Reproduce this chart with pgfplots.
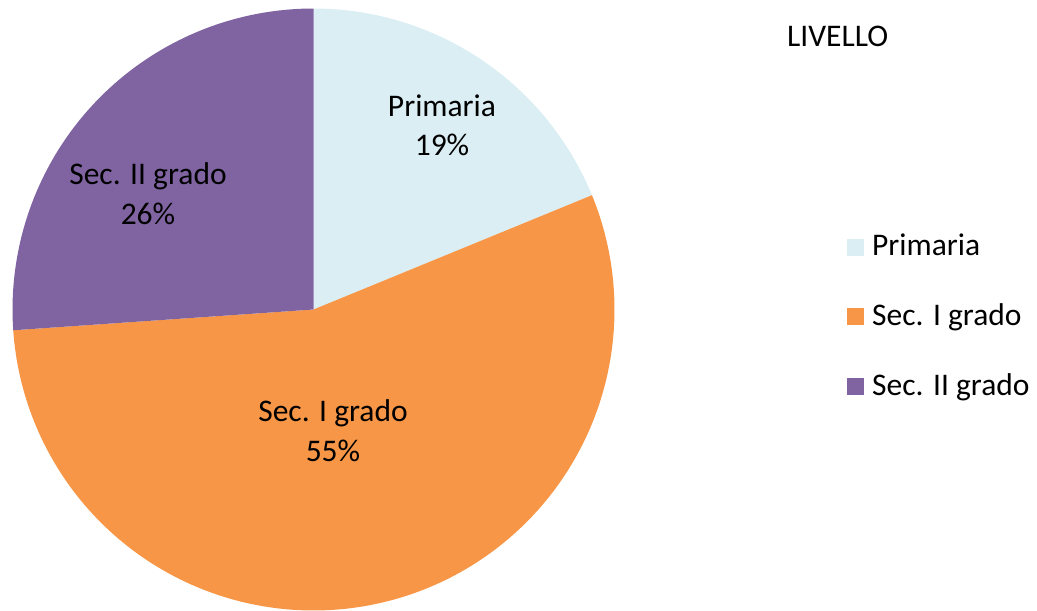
\documentclass[border=0pt]{standalone}
\usepackage{fontspec}
\setmainfont{Carlito}
\usepackage{pgfplots}
\pgfplotsset{compat=1.18}
\definecolor{cPrim}{HTML}{DAEEF3}
\definecolor{cSecI}{HTML}{F79646}
\definecolor{cSecII}{HTML}{8064A2}
% shares (percent)
\def\vPrim{18.8}
\def\vSecI{55.1}
\def\vSecII{26.1}
\begin{document}
\fontsize{31.5bp}{39bp}\selectfont
\begin{tikzpicture}
\def\cx{313.5}\def\cy{309.5}\def\R{301}
\pgfmathsetmacro{\aA}{90}
\pgfmathsetmacro{\aB}{\aA-3.6*\vPrim}
\pgfmathsetmacro{\aC}{\aB-3.6*\vSecI}
\pgfmathsetmacro{\aD}{\aC-3.6*\vSecII}
\begin{axis}[hide axis, scale only axis, width=1037bp, height=610bp,
  xmin=0, xmax=1037, ymin=0, ymax=610, y dir=reverse, clip=false,
  legend style={at={(axis cs:847,234)}, anchor=north west, draw=none, fill=none,
    inner sep=0pt, row sep=43bp, font=\fontsize{31.5bp}{39bp}\selectfont,
    nodes={inner sep=0pt}},
  legend cell align=left,
  legend image code/.code={\fill[#1] (0bp,-8.5bp) rectangle (17bp,8.5bp);},
  legend columns=1]
\addplot[fill=cPrim, draw=none, domain=\aB:\aA, samples=90, variable=\t]
  ({\cx+\R*cos(\t)},{\cy-\R*sin(\t)}) -- (axis cs:\cx,\cy) -- cycle;
\addlegendentry{\hspace{8bp}Primaria}
\addplot[fill=cSecI, draw=none, domain=\aC:\aB, samples=180, variable=\t]
  ({\cx+\R*cos(\t)},{\cy-\R*sin(\t)}) -- (axis cs:\cx,\cy) -- cycle;
\addlegendentry{\hspace{8bp}Sec. I grado}
\addplot[fill=cSecII, draw=none, domain=\aD:\aC, samples=90, variable=\t]
  ({\cx+\R*cos(\t)},{\cy-\R*sin(\t)}) -- (axis cs:\cx,\cy) -- cycle;
\addlegendentry{\hspace{8bp}Sec. II grado}
\node[anchor=base, inner sep=0pt] at (axis cs:442,117) {Primaria};
\node[anchor=base, inner sep=0pt] at (axis cs:442,156) {19\%};
\node[anchor=base, inner sep=0pt] at (axis cs:333,421) {Sec. I grado};
\node[anchor=base, inner sep=0pt] at (axis cs:333,461) {55\%};
\node[anchor=base, inner sep=0pt] at (axis cs:148,185) {Sec. II grado};
\node[anchor=base, inner sep=0pt] at (axis cs:148,225) {26\%};
\node[anchor=base west, inner sep=0pt] at (axis cs:787,47) {LIVELLO};
\end{axis}
\path (current axis.south west) rectangle (current axis.north east);
\end{tikzpicture}
\end{document}
